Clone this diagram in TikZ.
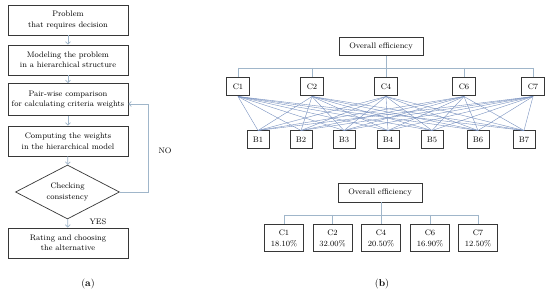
\documentclass[tikz,border=0pt]{standalone}
\usetikzlibrary{shapes.geometric,arrows.meta}
\definecolor{lnk}{RGB}{160,182,202}
\definecolor{edgec}{RGB}{120,145,192}
\definecolor{bord}{RGB}{55,55,55}
\begin{document}
\begin{tikzpicture}[x=1pt,y=-1pt,
  txt/.style={font=\fontsize{8}{10.5}\selectfont},
  fbox/.style={txt,draw=bord,line width=0.7pt,minimum width=120pt,minimum height=30pt,inner sep=0pt,align=center},
  fdia/.style={txt,draw=bord,line width=0.7pt,diamond,aspect=1.93,minimum width=104pt,minimum height=54pt,inner sep=0pt,align=center},
  farrow/.style={draw=lnk,line width=0.7pt,-{Straight Barb[length=2.5pt,width=5pt]}},
  cbox/.style={txt,draw=bord,line width=1pt,minimum width=23pt,minimum height=18pt,inner sep=0pt},
  pbox/.style={txt,draw=bord,line width=1pt,minimum width=39pt,minimum height=27pt,inner sep=0pt,align=center},
  obox/.style={txt,draw=bord,line width=0.8pt,minimum width=84pt,minimum height=18pt,inner sep=0pt},
  hline/.style={draw=lnk,line width=0.6pt},
  cbline/.style={draw=edgec,line width=0.4pt},
  captxt/.style={font=\fontsize{10}{12}\selectfont}
]
\useasboundingbox (0,0) rectangle (550,294);
\fill[white] (0,0) rectangle (550,294);

% ---------- (a) flowchart ----------
\node[fbox] (s1) at (68,20) {Problem\\that requires decision};
\node[fbox] (s2) at (68,60) {Modeling the problem\\in a hierarchical structure};
\node[fbox,minimum height=32pt] (s3) at (68,99.5) {Pair-wise comparison\\for calculating criteria weights};
\node[fbox] (s4) at (68,141) {Computing the weights\\in the hierarchical model};
\node[fdia] (dia) at (67.5,192) {Checking\\consistency};
\node[fbox] (s5) at (68,243) {Rating and choosing\\the alternative};
\draw[farrow] (s1) -- (s2);
\draw[farrow] (s2) -- (s3);
\draw[farrow] (s3) -- (s4);
\draw[farrow] (s4) -- (dia);
\draw[farrow] (dia) -- (s5);
\coordinate (fbk) at (148,104);
\draw[farrow] (dia.east) -| (fbk) -- (s3.east |- fbk);
\node[txt] (no) at (165,151) {NO};
\node[txt] (yes) at (98,222) {YES};
\node[captxt] (capa) at (88,284) {(\textbf{a})};

% ---------- (b) top hierarchy ----------
\node[obox] (top) at (381,46.5) {Overall efficiency};
\foreach \n/\x in {C1/238,C2/312,C4/386,C6/464,C7/533}{
  \node[cbox] (c\n) at (\x,87) {\n};
}
\foreach \n/\x in {B1/258,B2/301,B3/344,B4/388,B5/432,B6/478,B7/524}{
  \node[cbox,minimum width=22pt] (b\n) at (\x,140) {\n};
}
\coordinate (busL) at (238,68);
\coordinate (busR) at (533,68);
\draw[hline] (busL) -- (busR);
\draw[hline] (cC4.north |- top.south) -- (cC4.north |- busL);
\foreach \n in {C1,C2,C4,C6,C7}{
  \draw[hline] (c\n.north |- busL) -- (c\n.north);
}
\foreach \n in {C1,C2,C4,C6,C7}{
  \foreach \m in {B1,B2,B3,B4,B5,B6,B7}{
    \draw[cbline] (c\n.south) -- (b\m.north);
  }
}

% ---------- (b) bottom hierarchy ----------
\node[obox,minimum height=19pt] (top2) at (380,192.5) {Overall efficiency};
\node[pbox] (p1) at (284,238.5) {C1\\18.10\%};
\node[pbox] (p2) at (332.5,238.5) {C2\\32.00\%};
\node[pbox] (p4) at (381,238.5) {C4\\20.50\%};
\node[pbox] (p6) at (430,238.5) {C6\\16.90\%};
\node[pbox] (p7) at (478,238.5) {C7\\12.50\%};
\coordinate (bus2L) at (284,215);
\coordinate (bus2R) at (478,215);
\draw[hline] (bus2L) -- (bus2R);
\draw[hline] (p4.north |- top2.south) -- (p4.north |- bus2L);
\foreach \n in {p1,p2,p4,p6,p7}{
  \draw[hline] (\n.north |- bus2L) -- (\n.north);
}
\node[captxt] (capb) at (382,284) {(\textbf{b})};
\end{tikzpicture}
\end{document}
